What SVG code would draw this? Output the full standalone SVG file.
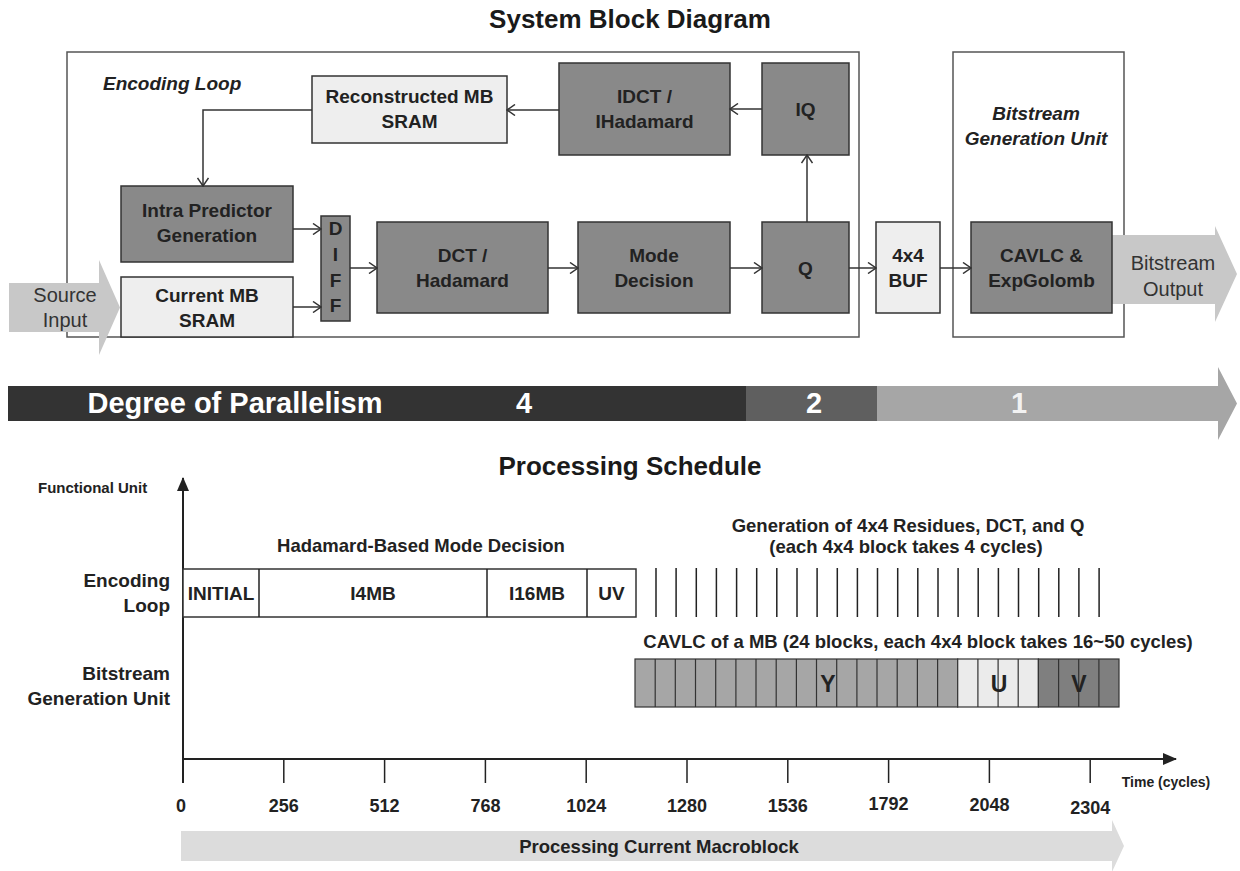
<svg xmlns="http://www.w3.org/2000/svg" width="1240" height="871" viewBox="0 0 1240 871">
  <style>
    text { font-family: "Liberation Sans", Arial, sans-serif; fill: #222; }
    .title { font-size: 26px; font-weight: bold; text-anchor: middle; fill: #1a1a1a; }
    .lbl { font-size: 19px; font-weight: bold; text-anchor: middle; }
    .big { font-size: 23px; font-weight: bold; text-anchor: middle; }
    .ital { font-size: 19px; font-weight: bold; font-style: italic; }
    .plain { font-size: 20px; text-anchor: middle; fill: #333; }
    .dark { fill: #898989; stroke: #333; stroke-width: 1.5; }
    .light { fill: #eeeeee; stroke: #333; stroke-width: 1.5; }
    .frame { fill: none; stroke: #555; stroke-width: 1.5; }
    .wire { fill: none; stroke: #333; stroke-width: 1.5; marker-end: url(#chev); }
    .row { fill: #fff; stroke: #333; stroke-width: 1.5; }
    .tick { stroke: #222; stroke-width: 1.5; }
    .sch { font-size: 18.5px; font-weight: bold; text-anchor: middle; }
    .unit { font-size: 19px; font-weight: bold; text-anchor: end; }
    .num { font-size: 18px; font-weight: bold; text-anchor: middle; }
    .deg { font-size: 29px; font-weight: bold; fill: #fff; text-anchor: middle; }
    .y { fill: #a6a6a6; stroke: #333; stroke-width: 1.2; }
    .u { fill: #ebebeb; stroke: #333; stroke-width: 1.2; }
    .v { fill: #7f7f7f; stroke: #333; stroke-width: 1.2; }
  </style>
  <defs>
    <marker id="chev" markerWidth="10" markerHeight="12" refX="9" refY="6" orient="auto" markerUnits="userSpaceOnUse">
      <path d="M1,0.5 L9,6 L1,11.5" fill="none" stroke="#333" stroke-width="1.5"/>
    </marker>
    <marker id="solid" markerWidth="14" markerHeight="14" refX="13" refY="7" orient="auto" markerUnits="userSpaceOnUse">
      <path d="M0,1 L14,7 L0,13 Z" fill="#222"/>
    </marker>
  </defs>

  <rect width="1240" height="871" fill="#fff"/>

  <!-- ===== System block diagram ===== -->
  <text class="title" x="630" y="28">System Block Diagram</text>

  <g id="encoding-loop-frame">
    <rect class="frame" x="67" y="52" width="792" height="285"/>
    <text class="ital" x="103" y="90">Encoding Loop</text>
  </g>
  <g id="bitstream-frame">
    <rect class="frame" x="953" y="52" width="171" height="285"/>
    <text class="ital" x="1036" y="120" text-anchor="middle">Bitstream</text>
    <text class="ital" x="1036" y="145" text-anchor="middle">Generation Unit</text>
  </g>

  <g id="source-input">
    <path d="M9,283 L99,283 L99,260 L120,307.5 L99,355 L99,332 L9,332 Z" fill="#c8c8c8"/>
    <text class="plain" x="65" y="302">Source</text>
    <text class="plain" x="65" y="327">Input</text>
  </g>

  <g id="recon-sram">
    <rect class="light" x="312" y="76" width="195" height="67"/>
    <text class="lbl" x="409.5" y="103">Reconstructed MB</text>
    <text class="lbl" x="409.5" y="128">SRAM</text>
  </g>
  <g id="idct">
    <rect class="dark" x="559" y="63" width="171" height="92"/>
    <text class="lbl" x="644.5" y="103">IDCT /</text>
    <text class="lbl" x="644.5" y="128">IHadamard</text>
  </g>
  <g id="iq">
    <rect class="dark" x="762" y="63" width="87" height="92"/>
    <text class="lbl" x="805.5" y="116">IQ</text>
  </g>
  <g id="intra-pred">
    <rect class="dark" x="121" y="186" width="172" height="76"/>
    <text class="lbl" x="207" y="217">Intra Predictor</text>
    <text class="lbl" x="207" y="242">Generation</text>
  </g>
  <g id="current-sram">
    <rect class="light" x="121" y="277" width="172" height="60"/>
    <text class="lbl" x="207" y="302">Current MB</text>
    <text class="lbl" x="207" y="327">SRAM</text>
  </g>
  <g id="diff">
    <rect class="dark" x="321" y="216" width="29" height="105"/>
    <text class="lbl" x="335.5" y="235">D</text>
    <text class="lbl" x="335.5" y="261">I</text>
    <text class="lbl" x="335.5" y="287">F</text>
    <text class="lbl" x="335.5" y="312">F</text>
  </g>
  <g id="dct">
    <rect class="dark" x="377" y="222" width="171" height="91"/>
    <text class="lbl" x="462.5" y="262">DCT /</text>
    <text class="lbl" x="462.5" y="287">Hadamard</text>
  </g>
  <g id="mode-decision">
    <rect class="dark" x="578" y="222" width="152" height="91"/>
    <text class="lbl" x="654" y="262">Mode</text>
    <text class="lbl" x="654" y="287">Decision</text>
  </g>
  <g id="q">
    <rect class="dark" x="762" y="222" width="87" height="91"/>
    <text class="lbl" x="805.5" y="275">Q</text>
  </g>
  <g id="buf">
    <rect class="light" x="876" y="222" width="64" height="91"/>
    <text class="lbl" x="908" y="262">4x4</text>
    <text class="lbl" x="908" y="287">BUF</text>
  </g>
  <g id="bitstream-output">
    <path d="M1112,235 L1215,235 L1215,226 L1237,274 L1215,322 L1215,304 L1112,304 Z" fill="#c8c8c8"/>
    <text class="plain" x="1173" y="270">Bitstream</text>
    <text class="plain" x="1173" y="296">Output</text>
  </g>
  <g id="cavlc">
    <rect class="dark" x="971" y="222" width="141" height="91"/>
    <text class="lbl" x="1041.5" y="262">CAVLC &amp;</text>
    <text class="lbl" x="1041.5" y="287">ExpGolomb</text>
  </g>

  <g id="connectors">
    <path class="wire" d="M312,110 L203,110 L203,186"/>
    <path class="wire" d="M559,110 L507,110"/>
    <path class="wire" d="M762,109 L730,109"/>
    <path class="wire" d="M807,222 L807,155"/>
    <path class="wire" d="M293,229 L321,229"/>
    <path class="wire" d="M293,307 L321,307"/>
    <path class="wire" d="M350,268 L377,268"/>
    <path class="wire" d="M548,268 L578,268"/>
    <path class="wire" d="M730,268 L762,268"/>
    <path class="wire" d="M849,268 L876,268"/>
    <path class="wire" d="M940,268 L971,268"/>
  </g>

  <!-- ===== Degree of parallelism band ===== -->
  <g id="parallelism">
    <rect x="8" y="386" width="738" height="35" fill="#333"/>
    <rect x="746" y="386" width="131" height="35" fill="#5f5f5f"/>
    <path d="M877,386 L1218,386 L1218,367 L1237,403.5 L1218,440 L1218,421 L877,421 Z" fill="#a6a6a6"/>
    <text class="deg" x="235" y="413">Degree of Parallelism</text>
    <text class="deg" x="524" y="413">4</text>
    <text class="deg" x="814" y="413">2</text>
    <text class="deg" x="1019" y="413" style="fill:#f2f2f2">1</text>
  </g>

  <!-- ===== Processing schedule ===== -->
  <text class="title" x="630" y="475">Processing Schedule</text>

  <g id="axes">
    <line x1="183" y1="783" x2="183" y2="478" stroke="#222" stroke-width="2" marker-end="url(#solid)"/>
    <line x1="183" y1="759" x2="1176" y2="759" stroke="#222" stroke-width="2" marker-end="url(#solid)"/>
    <text x="38" y="493" style="font-size:15px;font-weight:bold">Functional Unit</text>
    <text x="1166" y="787" style="font-size:14px;font-weight:bold;text-anchor:middle">Time (cycles)</text>
  </g>

  <g id="time-ticks">
    <line class="tick" x1="283.8" y1="759" x2="283.8" y2="783"/>
    <line class="tick" x1="384.6" y1="759" x2="384.6" y2="783"/>
    <line class="tick" x1="485.4" y1="759" x2="485.4" y2="783"/>
    <line class="tick" x1="586.2" y1="759" x2="586.2" y2="783"/>
    <line class="tick" x1="687" y1="759" x2="687" y2="783"/>
    <line class="tick" x1="787.8" y1="759" x2="787.8" y2="783"/>
    <line class="tick" x1="888.6" y1="759" x2="888.6" y2="783"/>
    <line class="tick" x1="989.4" y1="759" x2="989.4" y2="783"/>
    <line class="tick" x1="1090.2" y1="759" x2="1090.2" y2="783"/>
    <text class="num" x="181" y="812">0</text>
    <text class="num" x="283.8" y="812">256</text>
    <text class="num" x="384.6" y="812">512</text>
    <text class="num" x="485.4" y="812">768</text>
    <text class="num" x="586.2" y="812">1024</text>
    <text class="num" x="687" y="812">1280</text>
    <text class="num" x="787.8" y="812">1536</text>
    <text class="num" x="888.6" y="810">1792</text>
    <text class="num" x="989.4" y="811">2048</text>
    <text class="num" x="1090.2" y="814">2304</text>
  </g>

  <g id="unit-labels">
    <text class="unit" x="170" y="587">Encoding</text>
    <text class="unit" x="170" y="612">Loop</text>
    <text class="unit" x="170" y="680">Bitstream</text>
    <text class="unit" x="170" y="705">Generation Unit</text>
  </g>

  <g id="mode-decision-row">
    <text class="sch" x="421" y="552">Hadamard-Based Mode Decision</text>
    <rect class="row" x="183" y="569" width="453" height="48"/>
    <line class="tick" x1="259" y1="569" x2="259" y2="617"/>
    <line class="tick" x1="487" y1="569" x2="487" y2="617"/>
    <line class="tick" x1="587" y1="569" x2="587" y2="617"/>
    <text class="lbl" x="221" y="600">INITIAL</text>
    <text class="lbl" x="373" y="600">I4MB</text>
    <text class="lbl" x="537" y="600">I16MB</text>
    <text class="lbl" x="611.5" y="600">UV</text>
  </g>

  <g id="residue-blocks">
    <text class="sch" x="908" y="532">Generation of 4x4 Residues, DCT, and Q</text>
    <text class="sch" x="906" y="553">(each 4x4 block takes 4 cycles)</text>
    <path stroke="#222" stroke-width="1.5" d="M656,568V617 M676.1,568V617 M696.3,568V617 M716.4,568V617 M736.6,568V617 M756.7,568V617 M776.8,568V617 M797,568V617 M817.1,568V617 M837.3,568V617 M857.4,568V617 M877.5,568V617 M897.7,568V617 M917.8,568V617 M938,568V617 M958.1,568V617 M978.2,568V617 M998.4,568V617 M1018.5,568V617 M1038.7,568V617 M1058.8,568V617 M1078.9,568V617 M1099.1,568V617"/>
  </g>

  <g id="cavlc-row">
    <text class="sch" x="918" y="648">CAVLC of a MB (24 blocks, each 4x4 block takes 16~50 cycles)</text>
    <rect class="y" x="635" y="659" width="322.7" height="48"/>
    <rect class="u" x="957.7" y="659" width="80.7" height="48"/>
    <rect class="v" x="1038.4" y="659" width="80.6" height="48"/>
    <path stroke="#333" stroke-width="1.2" d="M655.2,659V707 M675.3,659V707 M695.5,659V707 M715.7,659V707 M735.9,659V707 M756,659V707 M776.2,659V707 M796.4,659V707 M816.5,659V707 M836.7,659V707 M856.9,659V707 M877,659V707 M897.2,659V707 M917.4,659V707 M937.6,659V707 M977.9,659V707 M998.1,659V707 M1018.2,659V707 M1058.6,659V707 M1078.7,659V707 M1098.9,659V707"/>
    <text class="big" x="828" y="692">Y</text>
    <text class="big" x="999" y="692">U</text>
    <text class="big" x="1079" y="692">V</text>
  </g>

  <g id="macroblock-span">
    <path d="M181,831 L1112,831 L1112,820 L1124,846 L1112,872 L1112,861 L181,861 Z" fill="#dcdcdc"/>
    <text class="sch" x="659" y="853">Processing Current Macroblock</text>
  </g>
</svg>
